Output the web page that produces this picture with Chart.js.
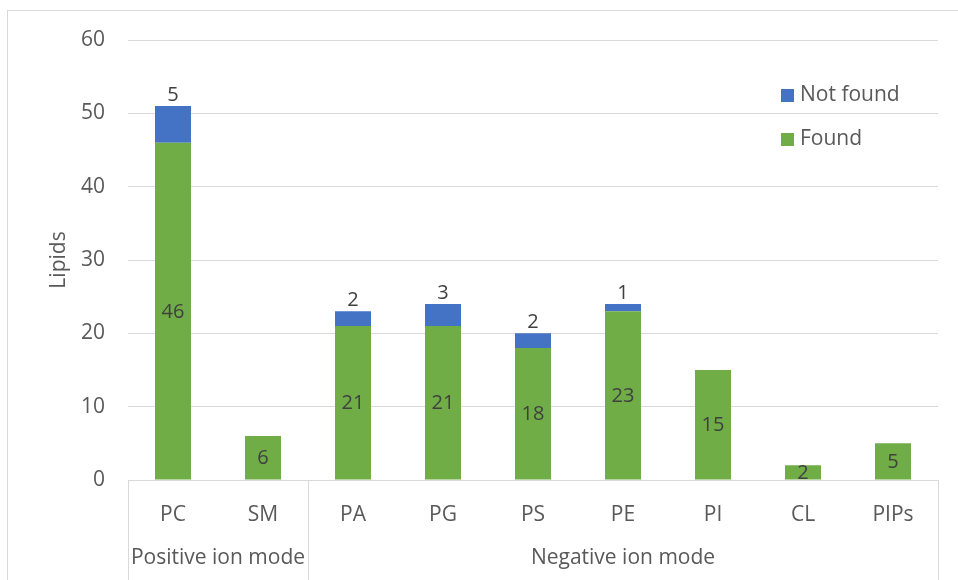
<!DOCTYPE html>
<html>
<head>
<meta charset="utf-8">
<script src="https://cdn.jsdelivr.net/npm/chart.js@4/dist/chart.umd.min.js"></script>
<style>
  html, body { margin: 0; padding: 0; background: #fff; }
  #wrap { width: 958px; height: 580px; }
</style>
</head>
<body>
<div id="wrap"><canvas id="lipidChart" width="958" height="580"></canvas></div>
<script>
  // data
  var categories = ['PC', 'SM', 'PA', 'PG', 'PS', 'PE', 'PI', 'CL', 'PIPs'];
  var found = [46, 6, 21, 21, 18, 23, 15, 2, 5];
  var notFound = [5, null, 2, 3, 2, 1, null, null, null];
  var groupLabels = ['Positive ion mode', 'Negative ion mode'];
  var groupStart = [0, 2];
  var groupEnd = [1, 8];
  var yTicks = [0, 10, 20, 30, 40, 50, 60];

  var greenColor = '#70AD47';
  var blueColor = '#4472C4';
  var fontName = '"Open Sans", "DejaVu Sans", sans-serif';

  // value labels: Found centred in the bar, Not found above the bar
  var valueLabels = {
    id: 'valueLabels',
    afterDatasetsDraw: function (chart) {
      var ctx = chart.ctx;
      ctx.save();
      ctx.font = '20px ' + fontName;
      ctx.fillStyle = '#404040';
      ctx.textAlign = 'center';
      ctx.textBaseline = 'middle';
      chart.getDatasetMeta(0).data.forEach(function (bar, i) {
        if (found[i] == null) return;
        ctx.fillText(String(found[i]), bar.x, (bar.y + bar.base) / 2 + 1);
      });
      ctx.textBaseline = 'bottom';
      chart.getDatasetMeta(1).data.forEach(function (bar, i) {
        if (notFound[i] == null) return;
        ctx.fillText(String(notFound[i]), bar.x, bar.y - 1);
      });
      ctx.restore();
    }
  };

  // outer frame, group separators, group labels and legend
  var decorations = {
    id: 'decorations',
    beforeDraw: function (chart) {
      var ctx = chart.ctx;
      ctx.save();
      ctx.fillStyle = '#fff';
      ctx.fillRect(0, 0, chart.width, chart.height);
      ctx.strokeStyle = '#D9D9D9';
      ctx.lineWidth = 1;
      ctx.strokeRect(7.5, 10.5, chart.width, chart.height);
      ctx.restore();
    },
    afterDraw: function (chart) {
      var ctx = chart.ctx;
      var x = chart.scales.x;
      var area = chart.chartArea;
      var half = (x.getPixelForValue(1) - x.getPixelForValue(0)) / 2;
      ctx.save();
      ctx.strokeStyle = '#D9D9D9';
      ctx.lineWidth = 1;
      ctx.font = '21px ' + fontName;
      ctx.fillStyle = '#595959';
      ctx.textAlign = 'center';
      ctx.textBaseline = 'middle';
      for (var g = 0; g < groupLabels.length; g++) {
        var left = x.getPixelForValue(groupStart[g]) - half;
        var right = x.getPixelForValue(groupEnd[g]) + half;
        [left, right].forEach(function (px) {
          px = Math.round(px) + 0.5;
          ctx.beginPath();
          ctx.moveTo(px, area.bottom);
          ctx.lineTo(px, chart.height);
          ctx.stroke();
        });
        ctx.fillText(groupLabels[g], (left + right) / 2, 558);
      }

      // legend inside the plot, top right
      var items = [
        { label: 'Not found', color: blueColor, y: 95 },
        { label: 'Found', color: greenColor, y: 139 }
      ];
      ctx.textAlign = 'left';
      ctx.font = '21px ' + fontName;
      items.forEach(function (it) {
        ctx.fillStyle = it.color;
        ctx.fillRect(781, it.y - 6, 13, 13);
        ctx.fillStyle = '#595959';
        ctx.fillText(it.label, 800, it.y);
      });
      ctx.restore();
    }
  };

  var ctx = document.getElementById('lipidChart').getContext('2d');
  new Chart(ctx, {
    type: 'bar',
    data: {
      labels: categories,
      datasets: [
        { label: 'Found', data: found, backgroundColor: greenColor, stack: 's' },
        { label: 'Not found', data: notFound, backgroundColor: blueColor, stack: 's' }
      ]
    },
    options: {
      responsive: false,
      animation: false,
      layout: { padding: { left: 0, top: 40, right: 20, bottom: 0 } },
      datasets: { bar: { categoryPercentage: 1, barPercentage: 0.4 } },
      plugins: {
        legend: { display: false },
        tooltip: { enabled: false }
      },
      scales: {
        x: {
          stacked: true,
          grid: { display: false },
          border: { display: true, color: '#D9D9D9' },
          ticks: { color: '#595959', font: { family: fontName, size: 21 }, padding: 14 },
          afterFit: function (scale) { scale.height = 100; }
        },
        y: {
          stacked: true,
          min: 0,
          max: 60,
          afterBuildTicks: function (scale) {
            scale.ticks = yTicks.map(function (v) { return { value: v }; });
          },
          grid: { color: '#D9D9D9', drawTicks: false },
          border: { display: false },
          ticks: { color: '#595959', font: { family: fontName, size: 21 }, padding: 23 },
          title: {
            display: true,
            text: 'Lipids',
            color: '#595959',
            font: { family: fontName, size: 21 },
            padding: { top: 46, bottom: 0 }
          },
          afterFit: function (scale) { scale.width = 128; }
        }
      }
    },
    plugins: [valueLabels, decorations]
  });
</script>
</body>
</html>
